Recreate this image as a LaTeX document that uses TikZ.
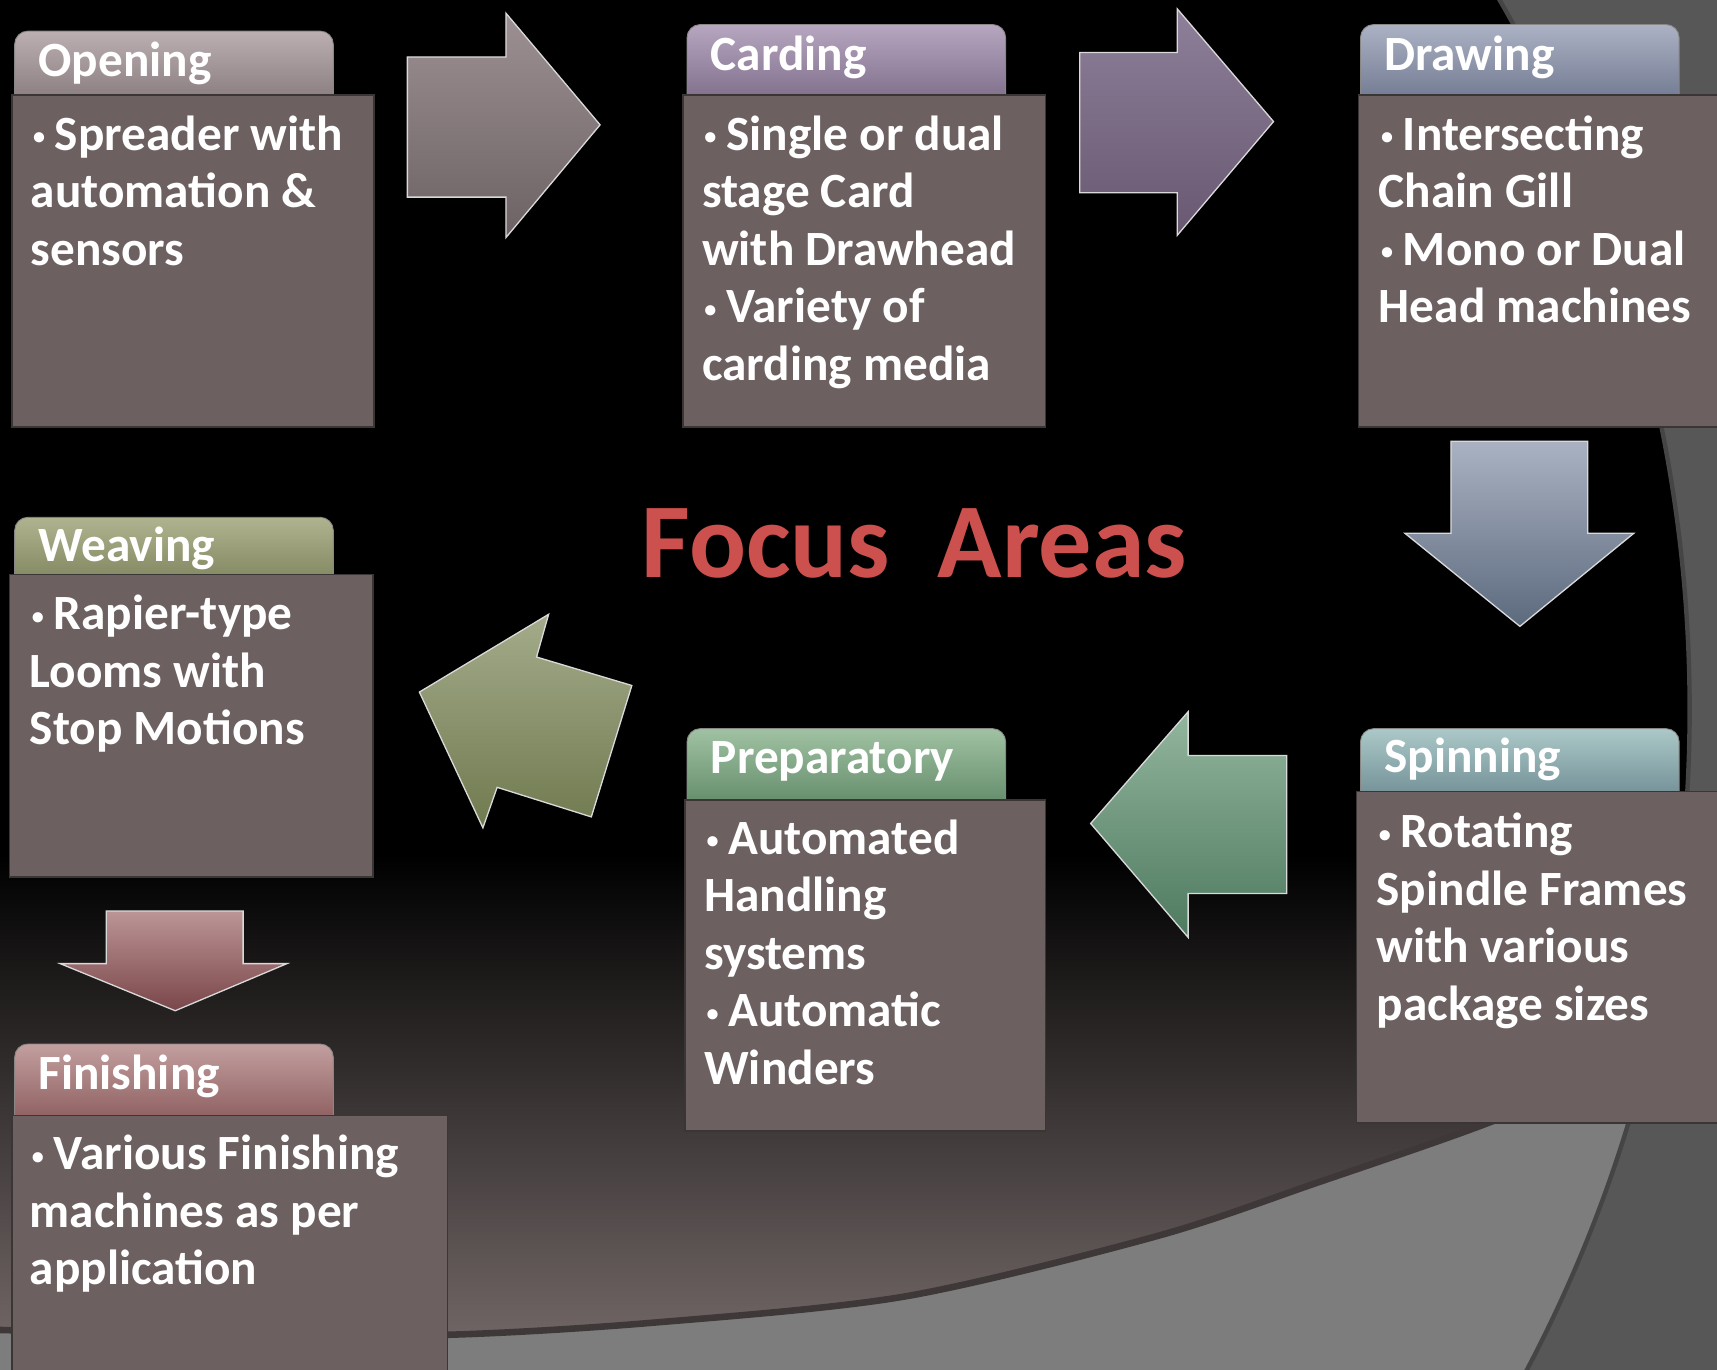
\documentclass[tikz,border=0pt]{standalone}
\usepackage{fontspec}
\setmainfont{Carlito}
\definecolor{bgdark}{HTML}{575757}
\definecolor{bglight}{HTML}{7D7D7D}
\definecolor{bgbrown}{HTML}{7A6E6E}
\definecolor{arcline}{HTML}{3F3838}
\definecolor{circline}{HTML}{454545}
\definecolor{boxfill}{HTML}{6C6060}
\definecolor{boxedge}{HTML}{3B3636}
\definecolor{titlered}{HTML}{CC504D}
% arrows
\definecolor{aAt}{HTML}{9C9093}\definecolor{aAb}{HTML}{6C6163}
\definecolor{aBt}{HTML}{8E7F9A}\definecolor{aBb}{HTML}{685871}
\definecolor{aCt}{HTML}{AAB2C2}\definecolor{aCb}{HTML}{5C6A7E}
\definecolor{aDt}{HTML}{92B59D}\definecolor{aDb}{HTML}{4E7A60}
\definecolor{aEt}{HTML}{A3AB8A}\definecolor{aEb}{HTML}{707A4F}
\definecolor{aFt}{HTML}{BC9596}\definecolor{aFb}{HTML}{7A4649}
% tabs
\definecolor{tOt}{HTML}{BBAFB1}\definecolor{tOb}{HTML}{7E7174}
\definecolor{tCt}{HTML}{B6A6C0}\definecolor{tCb}{HTML}{74637F}
\definecolor{tDt}{HTML}{ACB2C4}\definecolor{tDb}{HTML}{656E87}
\definecolor{tWt}{HTML}{B0B38F}\definecolor{tWb}{HTML}{767D56}
\definecolor{tPt}{HTML}{A0C2A2}\definecolor{tPb}{HTML}{56805F}
\definecolor{tSt}{HTML}{ACC8C8}\definecolor{tSb}{HTML}{63828A}
\definecolor{tFt}{HTML}{C39F9F}\definecolor{tFb}{HTML}{825052}
\newcommand\fabul{\makebox[22pt][l]{\hspace{2pt}\raisebox{5pt}{\fontsize{22}{22}\selectfont•}}}
\begin{document}
\begin{tikzpicture}[x=1pt,y=-1pt,
  bodybox/.style={draw=boxedge,line width=1.5pt,fill=boxfill,anchor=north west,inner sep=0pt},
  tabbox/.style={draw=boxedge!60,line width=0.8pt,rounded corners=12pt,anchor=north west,inner sep=0pt,minimum width=291pt},
  tabtext/.style={anchor=base west,inner sep=0pt,text=white,font=\fontsize{45}{52.5}\selectfont\bfseries},
  bodytext/.style={anchor=north west,inner sep=0pt,text=white,align=left,font=\fontsize{45}{52.5}\selectfont\bfseries},
  blockarrow/.style={draw=white!70!gray,line width=1.2pt,line join=miter}
]
\useasboundingbox (0,0) rectangle (1568,1251);
% ---------- background ----------
\begin{scope}
\clip (0,0) rectangle (1568,1251);
\fill[bgdark] (0,0) rectangle (1568,1251);
\begin{scope}
\clip (248,648) circle[radius=1295pt];
\fill[black] (-10,-10) rectangle (1580,1260);
\shade[top color=black,bottom color=bgbrown] (-10,780) rectangle (1580,1260);
\fill[bglight] plot[smooth] coordinates {(-20,1214) (200,1219) (407,1219) (595,1208) (826,1184) (1056,1129) (1203,1080) (1355,1027) (1480,975) (1600,915)} -- (1600,1300) -- (-20,1300) -- cycle;
\draw[arcline,line width=6pt] plot[smooth] coordinates {(-20,1214) (200,1219) (407,1219) (595,1208) (826,1184) (1056,1129) (1203,1080) (1355,1027) (1480,975) (1600,915)};
\end{scope}
\draw[circline,line width=4pt] (248,648) circle[radius=1295pt];
\end{scope}
% ---------- block arrows ----------
\shade[blockarrow,top color=aAt,bottom color=aAb]
  (372,52) -- (462,52) -- (462,12) -- (548,114) -- (462,217) -- (462,180) -- (372,180) -- cycle;
\shade[blockarrow,top color=aBt,bottom color=aBb]
  (986,48) -- (1075,48) -- (1075,8) -- (1163,111) -- (1075,215) -- (1075,176) -- (986,176) -- cycle;
\shade[blockarrow,top color=aCt,bottom color=aCb]
  (1325,403) -- (1450,403) -- (1450,487) -- (1492,487) -- (1388,572) -- (1283,487) -- (1325,487) -- cycle;
\shade[blockarrow,top color=aDt,bottom color=aDb]
  (1175,690) -- (1175,816) -- (1085,816) -- (1085,856) -- (996,752) -- (1085,650) -- (1085,690) -- cycle;
\shade[blockarrow,top color=aEt,bottom color=aEb]
  (383,632) -- (501,561) -- (490,600) -- (577,626) -- (540,746) -- (454,719) -- (441,756) -- cycle;
\shade[blockarrow,top color=aFt,bottom color=aFb]
  (97,832) -- (222,832) -- (222,880) -- (262,880) -- (160,923) -- (55,880) -- (97,880) -- cycle;
% ---------- tabs ----------
\node[tabbox,minimum height=78pt,top color=tOt,bottom color=tOb] (tOpen) at (13,28) {};
\node[tabbox,minimum height=84pt,top color=tCt,bottom color=tCb] (tCard) at (627,22) {};
\node[tabbox,minimum height=84pt,top color=tDt,bottom color=tDb] (tDraw) at (1242,22) {};
\node[tabbox,minimum height=72pt,top color=tWt,bottom color=tWb] (tWeav) at (13,472) {};
\node[tabbox,minimum height=85pt,top color=tPt,bottom color=tPb] (tPrep) at (627,665) {};
\node[tabbox,minimum height=77pt,top color=tSt,bottom color=tSb] (tSpin) at (1242,665) {};
\node[tabbox,minimum height=85pt,top color=tFt,bottom color=tFb] (tFin) at (13,953) {};
% ---------- bodies ----------
\node[bodybox,minimum width=331pt,minimum height=303pt] (bOpen) at (10,86) {};
\node[bodybox,minimum width=331pt,minimum height=303pt] (bCard) at (623,86) {};
\node[bodybox,minimum width=332pt,minimum height=303pt] (bDraw) at (1240,86) {};
\node[bodybox,minimum width=332pt,minimum height=276pt] (bWeav) at (8,524) {};
\node[bodybox,minimum width=329pt,minimum height=302pt] (bPrep) at (625,730) {};
\node[bodybox,minimum width=334pt,minimum height=303pt] (bSpin) at (1238,722) {};
\node[bodybox,minimum width=398pt,minimum height=240pt] (bFin) at (10,1018) {};
% ---------- tab titles ----------
\node[tabtext] (hOpen) at (35,70) {Opening};
\node[tabtext] (hCard) at (649,64) {Carding};
\node[tabtext] (hDraw) at (1264,64) {Drawing};
\node[tabtext] (hWeav) at (35,513) {Weaving};
\node[tabtext] (hPrep) at (649,706) {Preparatory};
\node[tabtext] (hSpin) at (1264,705) {Spinning};
\node[tabtext] (hFin) at (35,995) {Finishing};
% ---------- body texts ----------
\node[bodytext] (xOpen) at (28,100) {\rule{0pt}{37pt}\fabul Spreader with\\automation \&\\sensors};
\node[bodytext] (xCard) at (641,100) {\rule{0pt}{37pt}\fabul Single or dual\\stage Card\\with Drawhead\\\fabul Variety of\\carding media};
\node[bodytext] (xDraw) at (1259,100) {\rule{0pt}{37pt}\fabul Intersecting\\Chain Gill\\\fabul Mono or Dual\\Head machines};
\node[bodytext] (xWeav) at (27,538) {\rule{0pt}{37pt}\fabul Rapier-type\\Looms with\\Stop Motions};
\node[bodytext] (xPrep) at (643,743) {\rule{0pt}{37pt}\fabul Automated\\Handling\\systems\\\fabul Automatic\\Winders};
\node[bodytext] (xSpin) at (1257,737) {\rule{0pt}{37pt}\fabul Rotating\\Spindle Frames\\with various\\package sizes};
\node[bodytext] (xFin) at (27,1031) {\rule{0pt}{37pt}\fabul Various Finishing\\machines as per\\application};
% ---------- heading ----------
\node[anchor=base,inner sep=0pt,text=titlered,font=\fontsize{97}{110}\selectfont\bfseries] (title) at (835,527) {Focus\hspace{0.45em}Areas};
\end{tikzpicture}
\end{document}
